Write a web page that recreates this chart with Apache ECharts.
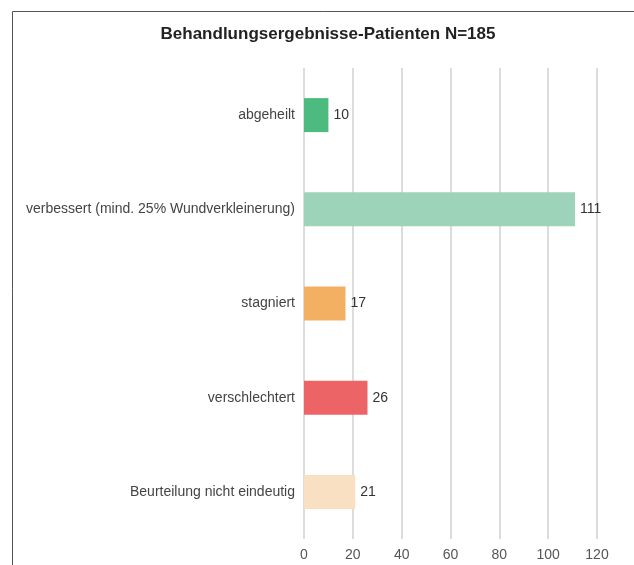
<!DOCTYPE html>
<html><head><meta charset="utf-8">
<script src="https://cdn.jsdelivr.net/npm/echarts@6/dist/echarts.min.js"></script>
<style>html,body{margin:0;padding:0;background:#fff}#c{width:634px;height:565px}</style>
</head><body><div id="c"></div>
<script>
const categories = ["abgeheilt","verbessert (mind. 25% Wundverkleinerung)","stagniert","verschlechtert","Beurteilung nicht eindeutig"];
const values = [10,111,17,26,21];
const barColors = ["#4dbb7f","#9dd4b9","#f3b063","#ed6466","#fae0c3"];
const titleText = "Behandlungsergebnisse-Patienten N=185";

const chart = echarts.init(document.getElementById('c'), null, {renderer:'canvas'});
chart.setOption({
  animation:false,
  backgroundColor:'#fff',
  title:{text:titleText,left:323,textAlign:'center',top:21,
    textStyle:{fontFamily:'Liberation Sans, Arial, sans-serif',fontSize:17,fontWeight:'bold',color:'#222'}},
  graphic:[
    {type:'polyline',shape:{points:[[12.5,565],[12.5,11.5],[634,11.5]]},style:{stroke:'#555',lineWidth:1,fill:null}}
  ],
  grid:{left:304,right:37,top:68,bottom:26,containLabel:false},
  xAxis:{type:'value',min:0,max:120,interval:20,
    axisLine:{show:false},axisTick:{show:false},
    axisLabel:{margin:9,fontFamily:'Liberation Sans, Arial, sans-serif',fontSize:14,color:'#555'},
    splitLine:{show:true,lineStyle:{color:'#dcdcdc',width:2}}},
  yAxis:{type:'category',data:categories,inverse:true,
    axisLine:{show:false},axisTick:{show:false},
    axisLabel:{margin:9,fontFamily:'Liberation Sans, Arial, sans-serif',fontSize:14,color:'#444'}},
  series:[{type:'bar',barWidth:34,
    data:values.map((v,i)=>({value:v,itemStyle:{color:barColors[i]}})),
    label:{show:true,position:'right',distance:5,fontFamily:'Liberation Sans, Arial, sans-serif',fontSize:14,color:'#333'}}]
});
</script></body></html>
